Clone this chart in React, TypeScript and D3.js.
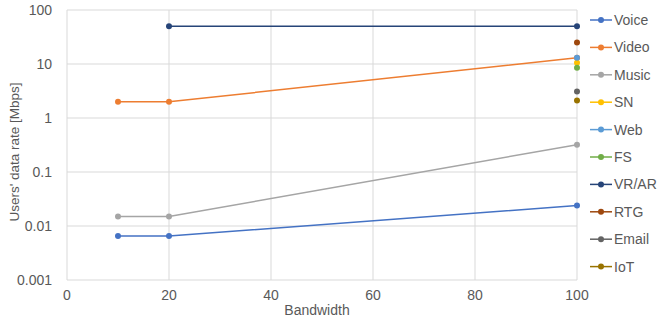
import React, { useEffect, useRef } from 'react';
import * as d3 from 'd3';

// series with two or three points (bandwidth -> users' data rate)
const voice = [[10, 0.0065], [20, 0.0065], [100, 0.024]];
const video = [[10, 2], [20, 2], [100, 13]];
const music = [[10, 0.015], [20, 0.015], [100, 0.32]];
const sn = [[100, 10.5]];
const web = [[100, 13]];
const fs = [[100, 8.5]];
const vrar = [[20, 50], [100, 50]];
const rtg = [[100, 25]];
const email = [[100, 3.1]];
const iot = [[100, 2.1]];

const seriesNames = ['Voice', 'Video', 'Music', 'SN', 'Web', 'FS', 'VR/AR', 'RTG', 'Email', 'IoT'];
const seriesData = [voice, video, music, sn, web, fs, vrar, rtg, email, iot];
const colors = ['#4472C4', '#ED7D31', '#A5A5A5', '#FFC000', '#5B9BD5', '#70AD47', '#264478', '#9E480E', '#636363', '#997300'];

const xTicks = [0, 20, 40, 60, 80, 100];
const yTicks = [0.001, 0.01, 0.1, 1, 10, 100];
const yTickLabels = ['0.001', '0.01', '0.1', '1', '10', '100'];

const App = () => {
  const width = 663,
    height = 322,
    margin = { left: 67, top: 10, bottom: 42, right: 86 };

  const svgRef = useRef<SVGSVGElement>(null);

  useEffect(() => {
    const svg = d3.select(svgRef.current);
    svg.selectAll('*').remove();

    const x = d3.scaleLinear()
      .domain([0, 100])
      .range([margin.left, width - margin.right]);
    const y = d3.scaleLog()
      .domain([0.001, 100])
      .range([height - margin.bottom, margin.top]);

    const font = 'Liberation Sans, Arial, sans-serif';

    // grid
    const grid = svg.append('g').attr('stroke', '#D9D9D9').attr('stroke-width', 1);
    grid.selectAll('line.v')
      .data(xTicks)
      .join('line')
      .attr('class', 'v')
      .attr('x1', d => x(d))
      .attr('x2', d => x(d))
      .attr('y1', margin.top)
      .attr('y2', height - margin.bottom);
    grid.selectAll('line.h')
      .data(yTicks)
      .join('line')
      .attr('class', 'h')
      .attr('y1', d => y(d))
      .attr('y2', d => y(d))
      .attr('x1', margin.left)
      .attr('x2', width - margin.right);

    // tick labels
    svg.append('g')
      .attr('font-family', font)
      .attr('font-size', 14)
      .attr('fill', '#595959')
      .selectAll('text')
      .data(xTicks)
      .join('text')
      .attr('x', d => x(d))
      .attr('y', height - margin.bottom + 20)
      .attr('text-anchor', 'middle')
      .text(d => d);

    svg.append('g')
      .attr('font-family', font)
      .attr('font-size', 14)
      .attr('fill', '#595959')
      .selectAll('text')
      .data(yTicks)
      .join('text')
      .attr('x', margin.left - 15)
      .attr('y', d => y(d))
      .attr('dy', '0.35em')
      .attr('text-anchor', 'end')
      .text((d, i) => yTickLabels[i]);

    // axis titles
    svg.append('text')
      .attr('x', 317)
      .attr('y', height - 7)
      .attr('text-anchor', 'middle')
      .attr('font-family', font)
      .attr('font-size', 14)
      .attr('fill', '#595959')
      .text('Bandwidth');

    svg.append('text')
      .attr('transform', `translate(19, ${(margin.top + height - margin.bottom) / 2 + 7}) rotate(-90)`)
      .attr('text-anchor', 'middle')
      .attr('font-family', font)
      .attr('font-size', 13.5)
      .attr('fill', '#595959')
      .text("Users' data rate [Mbps]");

    // series
    const line = d3.line<number[]>()
      .x(d => x(d[0]))
      .y(d => y(d[1]));

    seriesData.forEach((data, i) => {
      const g = svg.append('g');
      if (data.length > 1) {
        g.append('path')
          .datum(data)
          .attr('fill', 'none')
          .attr('stroke', colors[i])
          .attr('stroke-width', 1.5)
          .attr('d', line);
      }
      g.selectAll('circle')
        .data(data)
        .join('circle')
        .attr('cx', d => x(d[0]))
        .attr('cy', d => y(d[1]))
        .attr('r', 3)
        .attr('fill', colors[i]);
    });

    // legend
    const legend = svg.append('g')
      .selectAll('g')
      .data(seriesNames)
      .join('g')
      .attr('transform', (d, i) => `translate(590, ${20 + i * 27.4})`);
    legend.append('line')
      .attr('x1', 0)
      .attr('x2', 22)
      .attr('stroke', (d, i) => colors[i])
      .attr('stroke-width', 1.5);
    legend.append('circle')
      .attr('cx', 11)
      .attr('r', 3)
      .attr('fill', (d, i) => colors[i]);
    legend.append('text')
      .attr('x', 24)
      .attr('dy', '0.35em')
      .attr('font-family', font)
      .attr('font-size', 14)
      .attr('fill', '#595959')
      .text(d => d);
  }, []);

  return (
    <svg ref={svgRef} width={width} height={height} style={{ position: 'absolute', left: 0, top: 0, background: '#fff' }}></svg>
  );
};

export default App;
